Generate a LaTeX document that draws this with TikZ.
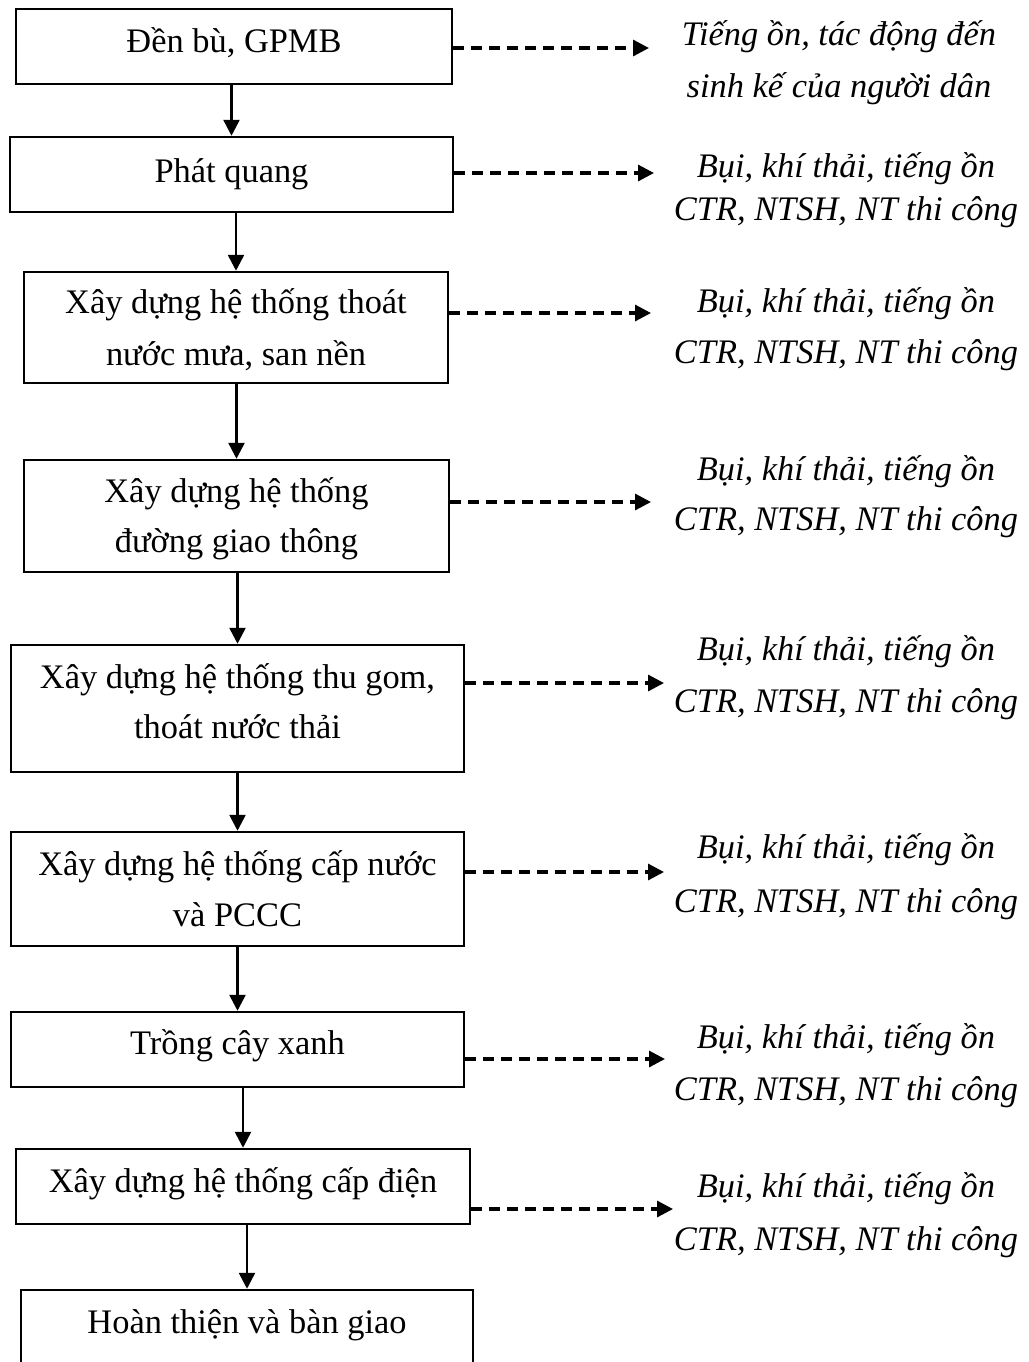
\documentclass[tikz,border=0pt]{standalone}
\usepackage{fontspec}
\setmainfont{Liberation Serif}
\usetikzlibrary{arrows.meta}
\tikzset{
  stepbox/.style={draw=black, line width=1.25pt, inner sep=0pt, fill=none},
  btext/.style={font=\fontsize{17.2}{25.5}\selectfont, align=center, anchor=base, inner sep=0pt},
  rtext/.style={font=\fontsize{17.2}{26}\selectfont\itshape, align=center, anchor=base, inner sep=0pt},
  flow/.style={line width=1.3pt, -{Triangle[length=8pt,width=8pt]}},
  dasharrow/.style={line width=1.6pt, dash pattern=on 5.5pt off 3.5pt, -{Triangle[length=8pt,width=8pt]}}
}
\begin{document}
\begin{tikzpicture}[x=0.5pt,y=-0.5pt]
\useasboundingbox (0,0) rectangle (1029,1362);
\clip (0,0) rectangle (1029,1362);
% boxes
\node[stepbox, minimum width=218pt, minimum height=37.5pt] (b1) at (234,46.5) {};
\node[stepbox, minimum width=221.5pt, minimum height=37.5pt] (b2) at (231.5,174.5) {};
\node[stepbox, minimum width=212pt, minimum height=55.5pt] (b3) at (236,327.5) {};
\node[stepbox, minimum width=212.5pt, minimum height=56pt] (b4) at (236.5,516) {};
\node[stepbox, minimum width=226.5pt, minimum height=63.5pt] (b5) at (237.5,708.5) {};
\node[stepbox, minimum width=226.5pt, minimum height=57pt] (b6) at (237.5,889) {};
\node[stepbox, minimum width=226.5pt, minimum height=37.5pt] (b7) at (237.5,1049.5) {};
\node[stepbox, minimum width=227pt, minimum height=37.5pt] (b8) at (243,1186.5) {};
\node[stepbox, minimum width=226pt, minimum height=55pt] (b9) at (247,1345) {};
% box texts (anchor = baseline of the last line)
\node[btext] (t1) at (234,52) {Đền bù, GPMB};
\node[btext] (t2) at (231.5,182) {Phát quang};
\node[btext, font=\fontsize{17.2}{26}\selectfont] (t3) at (236,365) {Xây dựng hệ thống thoát\\nước mưa, san nền};
\node[btext, font=\fontsize{17.2}{25}\selectfont] (t4) at (236.5,552) {Xây dựng hệ thống\\đường giao thông};
\node[btext, font=\fontsize{17.2}{25}\selectfont] (t5) at (237.5,738) {Xây dựng hệ thống thu gom,\\thoát nước thải};
\node[btext] (t6) at (237.5,926) {Xây dựng hệ thống cấp nước\\và PCCC};
\node[btext] (t7) at (237.5,1054) {Trồng cây xanh};
\node[btext] (t8) at (243,1192) {Xây dựng hệ thống cấp điện};
\node[btext] (t9) at (247,1333) {Hoàn thiện và bàn giao};
% flow arrows
\draw[flow] (b1.south -| b2.north) -- (b2.north);
\draw[flow] (b2.south -| b3.north) -- (b3.north);
\draw[flow] (b3.south -| b4.north) -- (b4.north);
\draw[flow] (b4.south -| b5.north) -- (b5.north);
\draw[flow] (b5.south -| b6.north) -- (b6.north);
\draw[flow] (b6.south -| b7.north) -- (b7.north);
\draw[flow] (b7.south -| b8.north) -- (b8.north);
\draw[flow] (b8.south -| b9.north) -- (b9.north);
% impact texts
\node[rtext] (r1) at (839,97) {Tiếng ồn, tác động đến\\sinh kế của người dân};
\node[rtext, font=\fontsize{17.2}{21.5}\selectfont\itshape] (r2) at (846,220) {Bụi, khí thải, tiếng ồn\\CTR, NTSH, NT thi công};
\node[rtext, font=\fontsize{17.2}{25.5}\selectfont\itshape] (r3) at (846,363) {Bụi, khí thải, tiếng ồn\\CTR, NTSH, NT thi công};
\node[rtext, font=\fontsize{17.2}{25}\selectfont\itshape] (r4) at (846,530) {Bụi, khí thải, tiếng ồn\\CTR, NTSH, NT thi công};
\node[rtext] (r5) at (846,712) {Bụi, khí thải, tiếng ồn\\CTR, NTSH, NT thi công};
\node[rtext, font=\fontsize{17.2}{27}\selectfont\itshape] (r6) at (846,912) {Bụi, khí thải, tiếng ồn\\CTR, NTSH, NT thi công};
\node[rtext] (r7) at (846,1100) {Bụi, khí thải, tiếng ồn\\CTR, NTSH, NT thi công};
\node[rtext, font=\fontsize{17.2}{26.5}\selectfont\itshape] (r8) at (846,1250) {Bụi, khí thải, tiếng ồn\\CTR, NTSH, NT thi công};
% dashed arrow ends
\coordinate (e1) at (649,48);
\coordinate (e2) at (654,173);
\coordinate (e3) at (651,313);
\coordinate (e4) at (651,502);
\coordinate (e5) at (664,683);
\coordinate (e6) at (664,872);
\coordinate (e7) at (665,1059);
\coordinate (e8) at (673,1209);
\draw[dasharrow] (b1.east |- e1) -- (e1);
\draw[dasharrow] (b2.east |- e2) -- (e2);
\draw[dasharrow] (b3.east |- e3) -- (e3);
\draw[dasharrow] (b4.east |- e4) -- (e4);
\draw[dasharrow] (b5.east |- e5) -- (e5);
\draw[dasharrow] (b6.east |- e6) -- (e6);
\draw[dasharrow] (b7.east |- e7) -- (e7);
\draw[dasharrow] (b8.east |- e8) -- (e8);
\end{tikzpicture}
\end{document}
